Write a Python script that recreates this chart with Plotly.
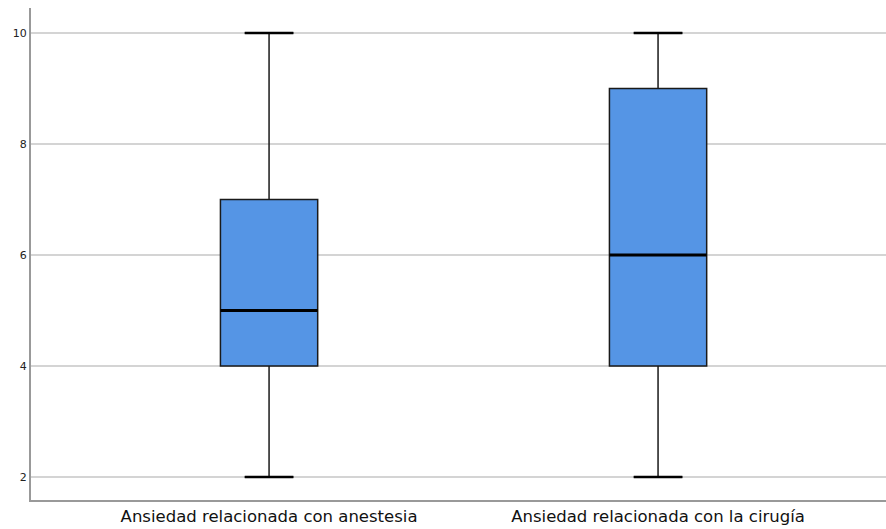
import plotly.graph_objects as go

categories = ["Ansiedad relacionada con anestesia", "Ansiedad relacionada con la cirugía"]
positions = [0, 1]
q1 = [4, 4]
median = [5, 6]
q3 = [7, 9]
lower = [2, 2]
upper = [10, 10]
y_ticks = [2, 4, 6, 8, 10]

box_width = 0.25
cap_width = box_width / 2
fig = go.Figure()
for i, cat in enumerate(categories):
    fig.add_trace(go.Box(
        x=[positions[i]], q1=[q1[i]], median=[median[i]], q3=[q3[i]],
        lowerfence=[lower[i]], upperfence=[upper[i]],
        width=box_width, whiskerwidth=0.5,
        fillcolor="#5595e5", line=dict(color="#1a1a1a", width=1.5),
        name=cat, showlegend=False, hoverinfo="skip",
    ))
    fig.add_trace(go.Scatter(
        x=[positions[i] - box_width / 2, positions[i] + box_width / 2],
        y=[median[i], median[i]], mode="lines",
        line=dict(color="black", width=3), showlegend=False, hoverinfo="skip",
    ))
    for fence in (lower[i], upper[i]):
        fig.add_trace(go.Scatter(
            x=[positions[i] - cap_width / 2, positions[i] + cap_width / 2],
            y=[fence, fence], mode="lines",
            line=dict(color="black", width=2.5), showlegend=False, hoverinfo="skip",
        ))

fig.update_layout(
    width=886, height=529,
    margin=dict(l=31, r=0, t=8, b=29, autoexpand=False),
    plot_bgcolor="white", paper_bgcolor="white",
    font=dict(family="DejaVu Sans", color="#222"),
    xaxis=dict(
        range=[-0.612, 1.586], tickmode="array", tickvals=positions, ticktext=categories,
        showgrid=False, zeroline=False, showline=True, linecolor="#999999", linewidth=2,
        ticks="", tickfont=dict(size=16.5, color="#111"), automargin=False,
    ),
    yaxis=dict(
        range=[1.586, 10.45], tickmode="array", tickvals=y_ticks,
        showgrid=True, gridcolor="#d4d4d4", gridwidth=1.5, zeroline=False,
        showline=True, linecolor="#999999", linewidth=2, ticks="",
        tickfont=dict(size=11, color="#222"), automargin=False,
    ),
)
fig.write_html("out.html", config={"displayModeBar": False},
               post_script="document.body.style.margin='0';document.body.style.overflow='hidden';")
